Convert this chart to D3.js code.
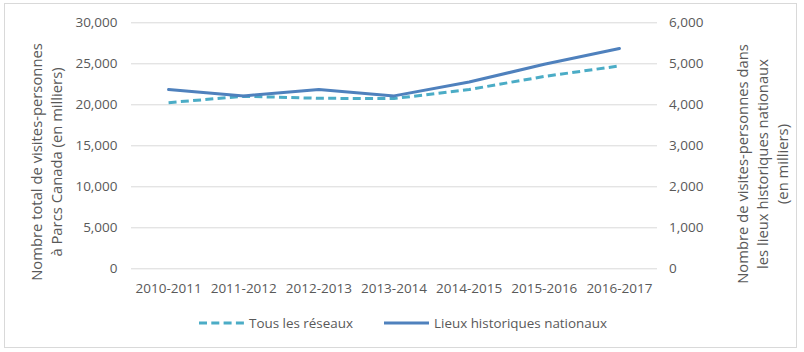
<!DOCTYPE html>
<html>
<head>
<meta charset="utf-8">
<script src="https://cdn.jsdelivr.net/npm/d3@7"></script>
<style>
    body { margin: 0; background: #fff; }
    .axis text { font-family: "Open Sans", sans-serif; font-size: 13.5px; fill: #595959; }
    .axis path { display: none; }
    .title-text { font-family: "Open Sans", sans-serif; font-size: 14.8px; fill: #595959; }
    .legend text { font-family: "Open Sans", sans-serif; font-size: 13px; fill: #595959; }
</style>
</head>
<body>
<div id="chart"></div>
<script>

// Data
let categories = ["2010-2011", "2011-2012", "2012-2013", "2013-2014", "2014-2015", "2015-2016", "2016-2017"];
let tousReseaux = [20200, 20980, 20730, 20700, 21800, 23400, 24680];
let lieuxHistoriques = [4360, 4205, 4360, 4205, 4545, 4975, 5360];
let leftTicks = [0, 5000, 10000, 15000, 20000, 25000, 30000];
let rightTicks = [0, 1000, 2000, 3000, 4000, 5000, 6000];

let width = 804, height = 352;
let margin = { top: 22.3, right: 147, bottom: 83.7, left: 131 };
let plotW = width - margin.left - margin.right;
let plotH = height - margin.top - margin.bottom;

let svg = d3.select("#chart").append("svg")
    .attr("width", width)
    .attr("height", height);

// Outer border
svg.append("rect")
    .attr("x", 4.5).attr("y", 3.5)
    .attr("width", 792).attr("height", 344)
    .attr("fill", "none")
    .attr("stroke", "#d9d9d9")
    .attr("stroke-width", 1);

let g = svg.append("g")
    .attr("transform", "translate(" + margin.left + "," + margin.top + ")");

let x = d3.scaleBand()
    .domain(categories)
    .range([0, plotW]);

let yLeft = d3.scaleLinear()
    .domain([0, 30000])
    .range([plotH, 0]);

let yRight = d3.scaleLinear()
    .domain([0, 6000])
    .range([plotH, 0]);

let fmt = d3.format(",");

// Gridlines
g.append("g")
    .selectAll("line")
    .data(leftTicks)
    .join("line")
    .attr("x1", 0)
    .attr("x2", plotW)
    .attr("y1", d => Math.round(yLeft(d)) + 0.5)
    .attr("y2", d => Math.round(yLeft(d)) + 0.5)
    .attr("stroke", "#d9d9d9")
    .attr("stroke-width", 1);

// Left axis
g.append("g")
    .attr("class", "axis")
    .call(d3.axisLeft(yLeft).tickValues(leftTicks).tickSize(0).tickPadding(13.5).tickFormat(fmt));

// Right axis
g.append("g")
    .attr("class", "axis")
    .attr("transform", "translate(" + plotW + ",0)")
    .call(d3.axisRight(yRight).tickValues(rightTicks).tickSize(0).tickPadding(12).tickFormat(fmt));

// Bottom axis
g.append("g")
    .attr("class", "axis")
    .attr("transform", "translate(0," + plotH + ")")
    .call(d3.axisBottom(x).tickSize(0).tickPadding(15));

// Lines
let cx = d => x(d) + x.bandwidth() / 2;

let lineLeft = d3.line()
    .x((d, i) => cx(categories[i]))
    .y(d => yLeft(d));

let lineRight = d3.line()
    .x((d, i) => cx(categories[i]))
    .y(d => yRight(d));

g.append("path")
    .datum(tousReseaux)
    .attr("d", lineLeft)
    .attr("fill", "none")
    .attr("stroke", "#4bacc6")
    .attr("stroke-width", 3)
    .attr("stroke-dasharray", "8,4.3")
    .attr("stroke-linejoin", "round");

g.append("path")
    .datum(lieuxHistoriques)
    .attr("d", lineRight)
    .attr("fill", "none")
    .attr("stroke", "#4f81bd")
    .attr("stroke-width", 3)
    .attr("stroke-linejoin", "round")
    .attr("stroke-linecap", "round");

// Axis titles
let leftTitle = svg.append("text")
    .attr("class", "title-text")
    .attr("text-anchor", "middle")
    .attr("transform", "translate(42,162) rotate(-90)");
leftTitle.append("tspan").attr("x", 0).attr("dy", 0).text("Nombre total de visites-personnes");
leftTitle.append("tspan").attr("x", 0).attr("dy", 20).text("à Parcs Canada (en milliers)");

let rightTitle = svg.append("text")
    .attr("class", "title-text")
    .attr("text-anchor", "middle")
    .attr("transform", "translate(748,164) rotate(-90)");
rightTitle.append("tspan").attr("x", 0).attr("dy", 0).text("Nombre de visites-personnes dans");
rightTitle.append("tspan").attr("x", 0).attr("dy", 20).text("les lieux historiques nationaux");
rightTitle.append("tspan").attr("x", 0).attr("dy", 20).text("(en milliers)");

// Legend
let legendItems = [
    { label: "Tous les réseaux", color: "#4bacc6", dash: "8,4.3", x: 199, textW: 104 },
    { label: "Lieux historiques nationaux", color: "#4f81bd", dash: null, x: 384, textW: 173 }
];

let legend = svg.append("g").attr("class", "legend");

legendItems.forEach(function (d) {
    legend.append("line")
        .attr("x1", d.x).attr("x2", d.x + 45)
        .attr("y1", 323).attr("y2", 323)
        .attr("stroke", d.color)
        .attr("stroke-width", 3)
        .attr("stroke-dasharray", d.dash);
    legend.append("text")
        .attr("x", d.x + 50)
        .attr("y", 327.5)
        .attr("textLength", d.textW)
        .attr("lengthAdjust", "spacingAndGlyphs")
        .text(d.label);
});

</script>
</body>
</html>
